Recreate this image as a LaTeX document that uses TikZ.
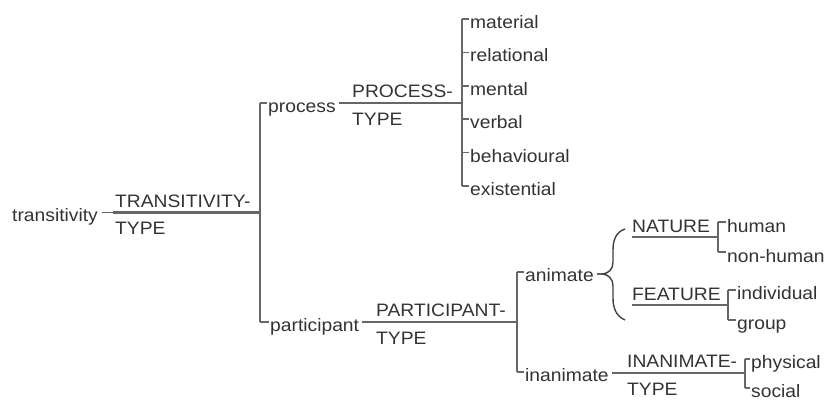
\documentclass[tikz,border=0pt]{standalone}
\usepackage{fontspec}
\setmainfont{Liberation Sans}[FakeStretch=1.07]
\begin{document}
\begin{tikzpicture}[x=1pt,y=-1pt,
  lbl/.style={inner sep=0pt, anchor=base west, text=black!80, font=\fontsize{18}{20}\selectfont},
  sysline/.style={line width=2.6pt, draw=black!60},
  bar/.style={line width=2.2pt, draw=black!60},
  tick/.style={line width=1.5pt, draw=black!60},
  link/.style={line width=1.3pt, draw=black!60},
  bracestyle/.style={line width=1.4pt, draw=black!75}]
\useasboundingbox (0,0) rectangle (828,400);

% ---- transitivity
\node[lbl] (trans) at (12,221.5) {transitivity};
\coordinate (s1a) at (113,212.5);
\coordinate (s1b) at (260,212.5);
\draw[link] ([xshift=4pt]trans.east |- s1a) -- (s1a);
\draw[sysline] (s1a) -- (s1b);
\node[lbl] (s1lab) at (115,207) {TRANSITIVITY-};
\node[lbl] (s1type) at (115,234) {TYPE};

% bracket 1
\coordinate (b1t) at (260,103);
\coordinate (b1b) at (260,322);
\draw[bar] (b1t) -- (b1b);
\node[lbl] (process) at (268,112.5) {process};
\node[lbl] (participant) at (270,331.5) {participant};
\draw[tick] (b1t) -- ([xshift=-1.5pt]b1t -| process.west);
\draw[tick] (b1b) -- ([xshift=-1.5pt]b1b -| participant.west);

% ---- PROCESS-TYPE
\coordinate (s2a) at (350,103);
\coordinate (s2b) at (462,103);
\draw[link] ([xshift=3pt]process.east |- s2a) -- (s2a);
\draw[sysline] (s2a) -- (s2b);
\node[lbl] (s2lab) at (352,97.5) {PROCESS-};
\node[lbl] (s2type) at (352,125) {TYPE};

\coordinate (b2t) at (462,19);
\coordinate (b2b) at (462,186);
\draw[bar] (b2t) -- (b2b);
\foreach \n [count=\i from 0] in {material,relational,mental,verbal,behavioural,existential} {
  \coordinate (t\n) at (462,{19+33.4*\i});
  \node[lbl] (\n) at (470,{28.5+33.4*\i}) {\n};
  \draw[tick] (t\n) -- ([xshift=-1.5pt]t\n -| \n.west);
}

% ---- PARTICIPANT-TYPE
\coordinate (s3a) at (375,322);
\coordinate (s3b) at (517,322);
\draw[link] ([xshift=3pt]participant.east |- s3a) -- (s3a);
\draw[sysline] (s3a) -- (s3b);
\node[lbl] (s3lab) at (376,316.5) {PARTICIPANT-};
\node[lbl] (s3type) at (376,344) {TYPE};

\coordinate (b3t) at (517,272);
\coordinate (b3b) at (517,372);
\draw[bar] (b3t) -- (b3b);
\node[lbl] (animate) at (525,281.5) {animate};
\node[lbl] (inanimate) at (525,381.5) {inanimate};
\draw[tick] (b3t) -- ([xshift=-1.5pt]b3t -| animate.west);
\draw[tick] (b3b) -- ([xshift=-1.5pt]b3b -| inanimate.west);

% ---- brace
\coordinate (btip) at (603,274);
\draw[link] ([xshift=3pt]animate.east |- btip) -- (btip);
\draw[bracestyle] (625,229) .. controls (616,232) and (613,240) .. (613,250)
  -- (613,262) .. controls (613,269) and (609,273) .. (btip)
  .. controls (609,275) and (613,279) .. (613,286)
  -- (613,298) .. controls (613,308) and (616,316) .. (625,320);

% ---- NATURE
\node[lbl] (nature) at (632,232) {NATURE};
\coordinate (s4a) at (632,237);
\coordinate (s4b) at (718,237);
\draw[sysline] (s4a) -- (s4b);
\coordinate (b4t) at (718,222);
\coordinate (b4b) at (718,252);
\draw[bar] (b4t) -- (b4b);
\node[lbl] (human) at (727,232) {human};
\node[lbl] (nonhuman) at (727,262) {non-human};
\draw[tick] (b4t) -- ([xshift=-1.5pt]b4t -| human.west);
\draw[tick] (b4b) -- ([xshift=-1.5pt]b4b -| nonhuman.west);

% ---- FEATURE
\node[lbl] (feature) at (632,300) {FEATURE};
\coordinate (s5a) at (632,305);
\coordinate (s5b) at (728,305);
\draw[sysline] (s5a) -- (s5b);
\coordinate (b5t) at (728,290);
\coordinate (b5b) at (728,320);
\draw[bar] (b5t) -- (b5b);
\node[lbl] (individual) at (737,299.5) {individual};
\node[lbl] (group) at (737,329.5) {group};
\draw[tick] (b5t) -- ([xshift=-1.5pt]b5t -| individual.west);
\draw[tick] (b5b) -- ([xshift=-1.5pt]b5b -| group.west);

% ---- INANIMATE-TYPE
\coordinate (s6a) at (626,373);
\coordinate (s6b) at (745,373);
\draw[link] ([xshift=3pt]inanimate.east |- s6a) -- (s6a);
\draw[sysline] (s6a) -- (s6b);
\node[lbl] (s6lab) at (627,367.5) {INANIMATE-};
\node[lbl] (s6type) at (627,395) {TYPE};
\coordinate (b6t) at (745,359);
\coordinate (b6b) at (745,388);
\draw[bar] (b6t) -- (b6b);
\node[lbl] (physical) at (751,368) {physical};
\node[lbl] (social) at (751,397) {social};
\draw[tick] (b6t) -- ([xshift=-1.5pt]b6t -| physical.west);
\draw[tick] (b6b) -- ([xshift=-1.5pt]b6b -| social.west);
\end{tikzpicture}
\end{document}
